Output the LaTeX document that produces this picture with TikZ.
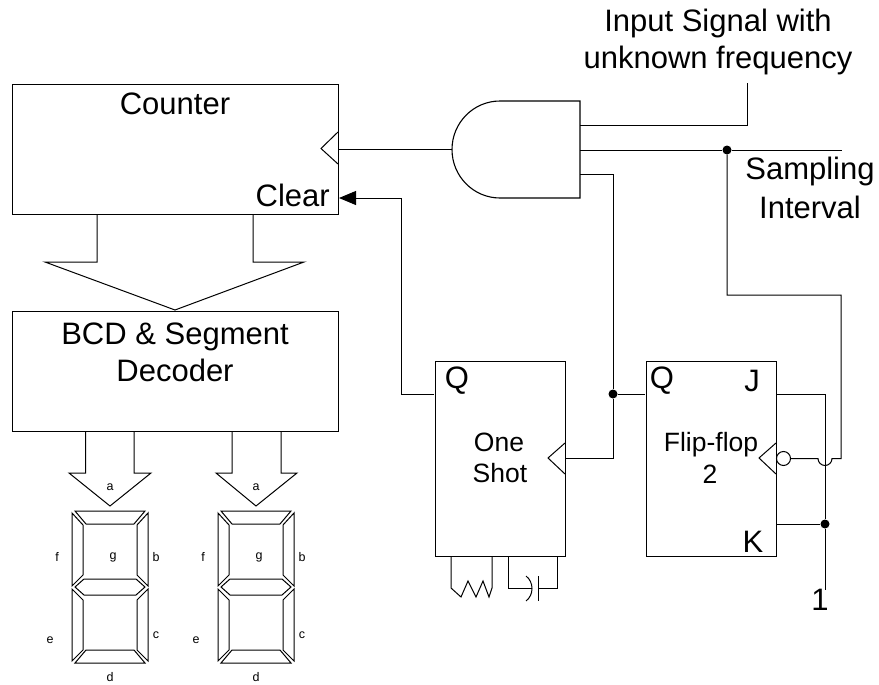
\documentclass[tikz,border=0pt]{standalone}
\usepackage{fontspec}
\setmainfont{Liberation Sans}
\usetikzlibrary{arrows.meta,calc}
\tikzset{
  box/.style={draw,line width=1.3pt,anchor=north west,inner sep=0pt,fill=none},
  wire/.style={line width=1pt},
  txt/.style={inner sep=0pt,font=\fontsize{31}{35}\selectfont},
  mid/.style={inner sep=0pt,font=\fontsize{26.5}{30}\selectfont},
  tiny/.style={inner sep=0pt,font=\fontsize{12.5}{14}\selectfont},
  dot/.style={circle,fill=black,inner sep=0pt,minimum size=9pt},
  pics/sevenseg/.style={code={
    \draw[wire,line join=miter]
      (-35,-76)--(35,-76)--(24,-63)--(-24,-63)--cycle
      (-38,-74)--(-27,-62)--(-27,-12)--(-38,-1)--cycle
      (38,-74)--(27,-62)--(27,-12)--(38,-1)--cycle
      (-35,0)--(-26,-8)--(26,-8)--(35,0)--(26,8)--(-26,8)--cycle
      (-38,2)--(-27,13)--(-27,63)--(-38,74)--cycle
      (38,2)--(27,13)--(27,63)--(38,74)--cycle
      (-35,76)--(-24,63)--(24,63)--(35,76)--cycle;
  }}
}
\begin{document}
\begin{tikzpicture}[x=1pt,y=-1pt]
\useasboundingbox (0,0) rectangle (879,685);
% Blocks
\node[box,minimum width=326pt,minimum height=130pt] (counter) at (12,84) {};
\node[box,minimum width=326pt,minimum height=120pt] (decoder) at (12,311) {};
\node[box,minimum width=130.5pt,minimum height=195pt] (oneshot) at (434.5,361) {};
\node[box,minimum width=130.5pt,minimum height=195pt] (flipflop) at (645.5,361) {};
% AND gate
\draw[line width=1.1pt] (580,101) -- (500,101) arc[start angle=90,end angle=270,x radius=48pt,y radius=48.5pt] -- (580,198) -- cycle;
\coordinate (gatein) at (452,149.5);
\coordinate (gateA) at (580,125);
\coordinate (gateB) at (580,150);
\coordinate (gateC) at (580,174);
% Named points
\coordinate (inputend) at (747,83);
\coordinate (sampleend) at (842,150);
\node[dot] (d1) at (727,150) {};
\node[dot] (d2) at (613,394) {};
\node[dot] (d3) at (825,524) {};
\coordinate (oneend) at (825,590);
% Clock triangles
\draw[wire] (338,132) -- (321,148.5) -- (338,164);
\draw[wire] (565,443) -- (548,458) -- (565,474);
\draw[wire] (776,443) -- (759,458) -- (776,474);
\node[draw,circle,line width=1pt,inner sep=0pt,minimum size=14pt] (bub) at (783.5,458.5) {};
% Wires
\draw[wire] (gatein) -- (338,149.5);
\draw[wire] (gateA) -- (inputend |- gateA) -- (inputend);
\draw[wire] (gateB) -- (d1) -- (sampleend);
\draw[wire] (gateC) -- (613,174) -- (d2);
\draw[wire] (d2) -- (613,458) -- (565,458);
\draw[wire] (d2) -- (645,394);
\draw[wire] (d1) -- (727,295) -- (841,295) -- (841,458.5) -- (832,458.5) arc[start angle=0,end angle=-180,radius=7pt] -- (bub.east);
\draw[wire] (776,394) -- (825,394) -- (d3);
\draw[wire] (777,524) -- (d3) -- (oneend);
\draw[wire,-{Triangle[length=17pt,width=14pt]}] (434,394) -- (401,394) -- (401,198) -- (339,198);
% Bus arrows
\draw[wire] (97,215) -- (97,262) -- (45,262) -- (175,310) -- (304,262) -- (253,262) -- (253,215);
\draw[wire] (85.5,431) -- (85.5,473) -- (69,473) -- (110,506) -- (151,473) -- (134,473) -- (134,431);
\draw[wire] (232,431) -- (232,473) -- (216,473) -- (256,506) -- (297,473) -- (281,473) -- (281,431);
% Seven segment displays
\pic at (110,587) {sevenseg};
\pic at (256,587) {sevenseg};
% Resistor and capacitor
\draw[wire] (451,556) -- (451,588) -- (461,597) -- (468,581) -- (476,597) -- (483,581) -- (489,597) -- (492,588) -- (492,556);
\draw[wire] (508,556) -- (508,588) -- (532,588);
\draw[wire] (526,576) .. controls (534,582) and (534,595) .. (526,601);
\draw[wire] (538,576) -- (538,601);
\draw[wire] (538,588) -- (557,588) -- (557,556);
% Texts
\node[txt] (t1) at (718,23) {Input Signal with};
\node[txt] (t2) at (718,60) {unknown frequency};
\node[txt] (t3) at (175,104) {Counter};
\node[txt,anchor=east] (t4) at (330,195) {Clear};
\node[txt] (t5) at (175,337) {BCD \& Segment};
\node[txt] (t6) at (175,370) {Decoder};
\node[txt] (t7) at (810,171) {Sampling};
\node[txt] (t8) at (810,207) {Interval};
\node[txt] (q1) at (457,381) {Q};
\node[txt] (q2) at (662,381) {Q};
\node[txt] (j) at (752,381) {J};
\node[txt] (k) at (753,542) {K};
\node[txt] (one) at (820,600) {1};
\node[mid] (os1) at (499,442) {One};
\node[mid] (os2) at (500,473) {Shot};
\node[mid] (ff1) at (711,445) {Flip-flop};
\node[mid] (ff2) at (710,474) {2};
\foreach \dx/\n in {0/a,146/b}{
  \node[tiny] (a\n) at (110+\dx,487) {a};
  \node[tiny] (f\n) at (57+\dx,557) {f};
  \node[tiny] (g\n) at (113+\dx,557) {g};
  \node[tiny] (b\n) at (156+\dx,557) {b};
  \node[tiny] (e\n) at (50+\dx,640) {e};
  \node[tiny] (c\n) at (156+\dx,635) {c};
  \node[tiny] (d\n) at (110+\dx,677) {d};
}
\end{tikzpicture}
\end{document}
